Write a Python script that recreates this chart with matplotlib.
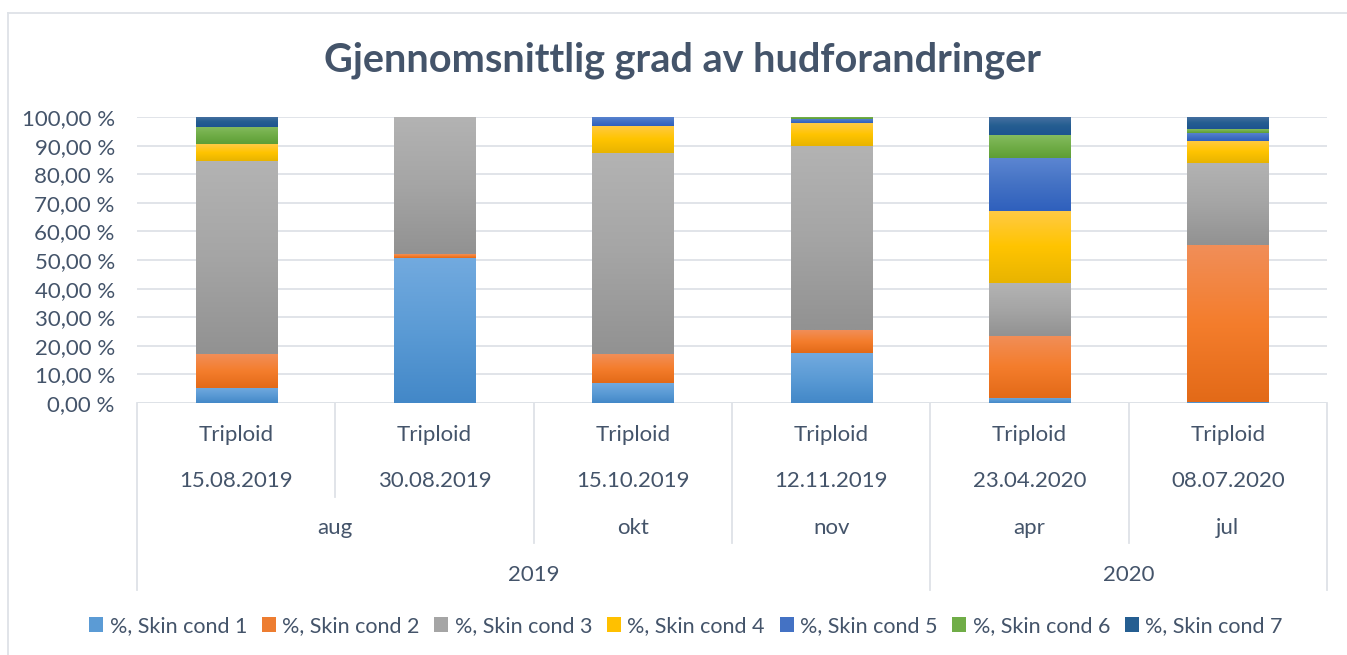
import numpy as np
import matplotlib
matplotlib.use("Agg")
import matplotlib.pyplot as plt
from matplotlib.colors import to_rgb
from matplotlib.transforms import blended_transform_factory
from matplotlib.lines import Line2D
from matplotlib.patches import Patch

# ---- data ----
groups = ["Triploid"] * 6
dates = ["15.08.2019", "30.08.2019", "15.10.2019", "12.11.2019", "23.04.2020", "08.07.2020"]
months = ["aug", "okt", "nov", "apr", "jul"]
month_spans = [(0, 1), (2, 2), (3, 3), (4, 4), (5, 5)]
years = ["2019", "2020"]
year_spans = [(0, 3), (4, 5)]
series_names = ["%, Skin cond 1", "%, Skin cond 2", "%, Skin cond 3", "%, Skin cond 4",
                "%, Skin cond 5", "%, Skin cond 6", "%, Skin cond 7"]
cond1 = [5.3, 50.8, 6.9, 17.4, 1.75, 0.35]
cond2 = [11.7, 1.2, 10.1, 8.0, 21.7, 54.8]
cond3 = [67.6, 48.0, 70.3, 64.6, 18.4, 28.7]
cond4 = [5.9, 0.0, 9.5, 7.9, 25.2, 7.7]
cond5 = [0.0, 0.0, 3.2, 1.4, 18.7, 2.9]
cond6 = [6.0, 0.0, 0.0, 0.7, 7.9, 1.3]
cond7 = [3.5, 0.0, 0.0, 0.0, 6.3, 4.2]
series = [cond1, cond2, cond3, cond4, cond5, cond6, cond7]

# gradient colours (top, middle, bottom)
grads = [
    ("#72AADF", "#5B9BD5", "#4388C8"),
    ("#F18E58", "#F47D2C", "#E36A18"),
    ("#B3B3B3", "#A5A5A5", "#929292"),
    ("#FFCA45", "#FFC400", "#E8B400"),
    ("#5C86D2", "#4472C4", "#2F60BD"),
    ("#84BB5F", "#70AD47", "#5E9E36"),
    ("#4A72A2", "#255E91", "#1D5490"),
]
legend_colors = ["#5B9BD5", "#ED7D31", "#A5A5A5", "#FFC000", "#4472C4", "#70AD47", "#255E91"]

text_color = "#44546A"
grid_color = "#DEE2E7"
font = "Lato"
fs = 16

W, H = 1347, 655
fig = plt.figure(figsize=(W / 100, H / 100), dpi=100)
L, R, T, B = 137, 1327, 117, 403
ax = fig.add_axes([L / W, 1 - B / H, (R - L) / W, (B - T) / H])

x = np.arange(len(dates))
bw = 0.41

def gradient_img(top, mid, bot, n=64):
    t = np.linspace(0, 1, n)[:, None]
    c_top, c_mid, c_bot = [np.array(to_rgb(c)) for c in (top, mid, bot)]
    img = np.where(t < 0.5, c_top + (c_mid - c_top) * (t / 0.5),
                   c_mid + (c_bot - c_mid) * ((t - 0.5) / 0.5))
    return img[:, None, :]

bottom = np.zeros(len(dates))
for vals, g, col in zip(series, grads, legend_colors):
    vals = np.array(vals)
    bars = ax.bar(x, vals, bw, bottom=bottom, color=col, zorder=2, linewidth=0)
    for bar in bars:
        h = bar.get_height()
        if h <= 0:
            continue
        x0, y0 = bar.get_x(), bar.get_y()
        im = ax.imshow(gradient_img(*g), extent=[x0, x0 + bar.get_width(), y0, y0 + h],
                       aspect="auto", interpolation="bilinear", zorder=3, origin="upper")
        im.set_clip_path(bar)
    bottom += vals

ax.set_xlim(-0.5, len(dates) - 0.5)
ax.set_ylim(0, 100)
ax.set_aspect("auto")
ax.set_yticks(np.arange(0, 101, 10))
ax.set_yticklabels([f"{v:.2f}".replace(".", ",") + " %" for v in np.arange(0, 101, 10)],
                   fontsize=fs, color=text_color, family=font)
ax.tick_params(axis="y", length=0, pad=16)
ax.set_xticks([])
ax.grid(axis="y", color=grid_color, linewidth=1.3, zorder=0)
ax.set_axisbelow(True)
for s in ax.spines.values():
    s.set_visible(False)
ax.axhline(0, color=grid_color, linewidth=1.3, zorder=1)

# hierarchical category axis
tr = blended_transform_factory(ax.transData, ax.transAxes)
def ya(py):
    return (B - py) / (B - T)

for i in x:
    ax.text(i, ya(435), groups[i], transform=tr, ha="center", va="center",
            fontsize=fs, color=text_color, family=font)
    ax.text(i, ya(481), dates[i], transform=tr, ha="center", va="center",
            fontsize=fs, color=text_color, family=font)
for m, (a, b) in zip(months, month_spans):
    ax.text((a + b) / 2, ya(528), m, transform=tr, ha="center", va="center",
            fontsize=fs, color=text_color, family=font)
for yv, (a, b) in zip(years, year_spans):
    ax.text((a + b) / 2, ya(575), yv, transform=tr, ha="center", va="center",
            fontsize=fs, color=text_color, family=font)

def vline(xd, py_end):
    ax.add_line(Line2D([xd, xd], [0, ya(py_end)], transform=tr, color=grid_color,
                       linewidth=1.3, clip_on=False))

vline(-0.5, 590)
vline(5.5, 590)
vline(0.5, 497)
vline(1.5, 543)
vline(2.5, 543)
vline(3.5, 590)
vline(4.5, 543)

# title
fig.text(682 / W, 1 - 60 / H, "Gjennomsnittlig grad av hudforandringer", ha="center", va="center",
         fontsize=28.5, fontweight="bold", color=text_color, family=font)

# legend
handles = [Patch(facecolor=c, edgecolor="none") for c in legend_colors]
leg = fig.legend(handles, series_names, loc="center", bbox_to_anchor=(686 / W, 1 - 626 / H),
                 ncol=7, frameon=False, handlelength=0.65, handleheight=0.65,
                 handletextpad=0.3, columnspacing=0.68, prop={"family": font, "size": 15.5})
for t in leg.get_texts():
    t.set_color(text_color)

# chart area border (partly cut)
fig.add_artist(Line2D([8 / W, 8 / W], [0, 1 - 13 / H], transform=fig.transFigure,
                      color=grid_color, linewidth=1.3))
fig.add_artist(Line2D([8 / W, 1], [1 - 13 / H, 1 - 13 / H], transform=fig.transFigure,
                      color=grid_color, linewidth=1.3))

fig.savefig("out.png", dpi=100)
